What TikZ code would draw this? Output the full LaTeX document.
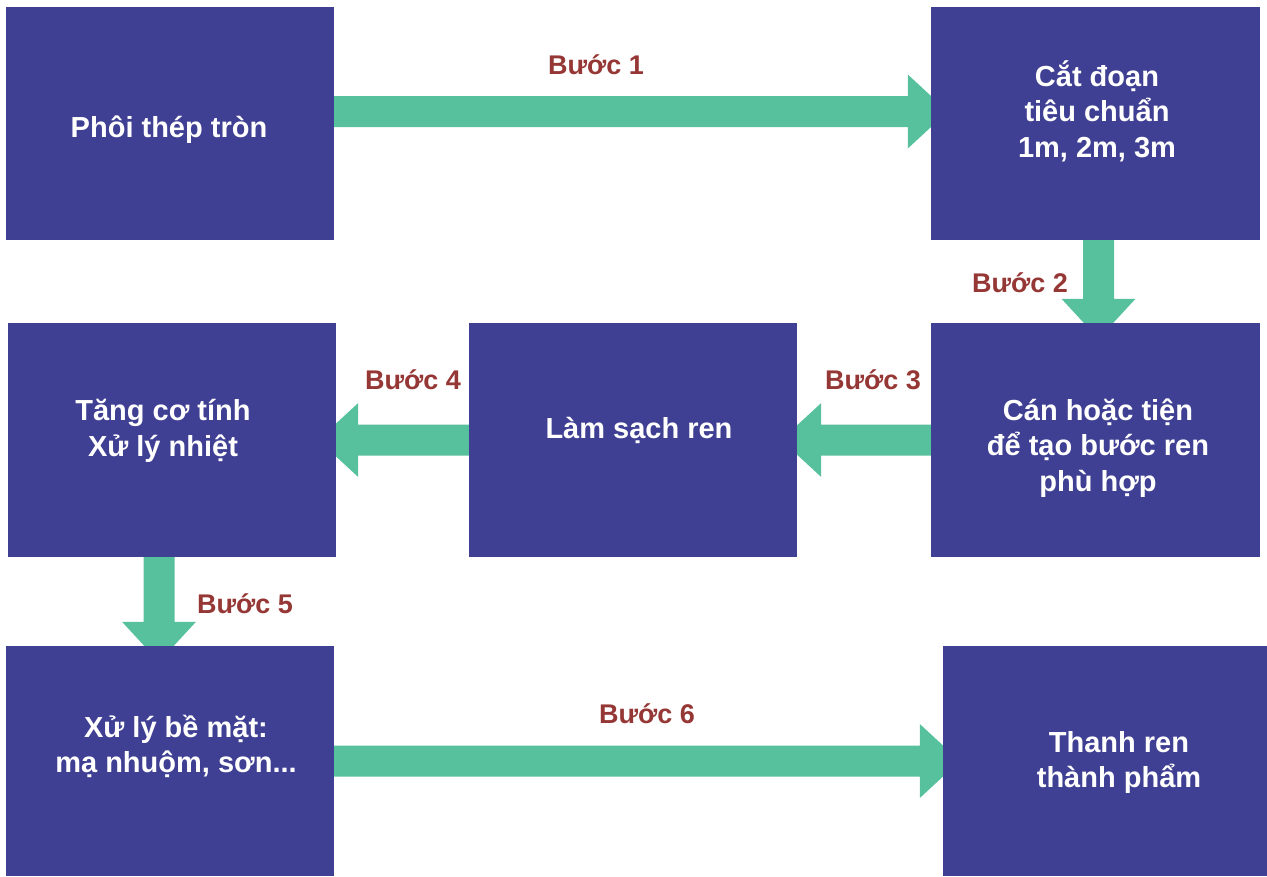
\documentclass[tikz,border=0pt]{standalone}
\usepackage{fontspec}
\setmainfont{Liberation Sans}
\usetikzlibrary{calc}
\pgfdeclarelayer{bg}
\pgfsetlayers{bg,main}
\definecolor{boxblue}{RGB}{63,63,147}
\definecolor{flowgreen}{RGB}{87,192,157}
\definecolor{stepred}{RGB}{149,55,53}
\tikzset{
  box/.style={fill=boxblue, draw=none, inner sep=0pt},
  boxtext/.style={text=white, align=center, inner sep=0pt, font=\bfseries\fontsize{29}{35.5}\selectfont},
  steplabel/.style={text=stepred, inner sep=0pt, font=\bfseries\fontsize{27}{32}\selectfont},
  flow/.style={fill=flowgreen, draw=none}
}
\newcommand\blockarrow[2]{%
  \path ($(#2)!40pt!(#1)$) coordinate (hb);
  \fill[flow] ($(#1)!15.5pt!90:(#2)$) -- ($(hb)!15.5pt!90:(#2)$) -- ($(hb)!37pt!90:(#2)$) -- (#2)
     -- ($(hb)!37pt!-90:(#2)$) -- ($(hb)!15.5pt!-90:(#2)$) -- ($(#1)!15.5pt!-90:(#2)$) -- cycle;}
\begin{document}
\begin{tikzpicture}[x=1pt,y=-1pt]
\useasboundingbox (0,0) rectangle (1267,876);
% boxes
\node[box, minimum width=328pt, minimum height=233pt] (b1) at (170,123.5) {};
\node[box, minimum width=329pt, minimum height=233pt] (b2) at (1095.5,123.5) {};
\node[box, minimum width=329pt, minimum height=234pt] (b3) at (1095.5,440) {};
\node[box, minimum width=328pt, minimum height=234pt] (b4) at (633,440) {};
\node[box, minimum width=328pt, minimum height=234pt] (b5) at (172,440) {};
\node[box, minimum width=328pt, minimum height=230pt] (b6) at (170,761) {};
\node[box, minimum width=324pt, minimum height=230pt] (b7) at (1105,761) {};
% texts
\node[boxtext] (t1) at (169,130) {Phôi thép tròn};
\node[boxtext] (t2) at (1097,111) {Cắt đoạn\\tiêu chuẩn\\1m, 2m, 3m};
\node[boxtext] (t3) at (1098,448) {Cán hoặc tiện\\để tạo bước ren\\phù hợp};
\node[boxtext] (t4) at (639,430.5) {Làm sạch ren};
\node[boxtext] (t5) at (163,431) {Tăng cơ tính\\Xử lý nhiệt};
\node[boxtext] (t6) at (176,746.5) {Xử lý bề mặt:\\mạ nhuộm, sơn...};
\node[boxtext] (t7) at (1119,762.5) {Thanh ren\\thành phẩm};
% step labels
\node[steplabel] (l1) at (596,65) {Bước 1};
\node[steplabel] (l2) at (1020,283) {Bước 2};
\node[steplabel] (l3) at (873,380) {Bước 3};
\node[steplabel] (l4) at (413,380) {Bước 4};
\node[steplabel] (l5) at (245,604) {Bước 5};
\node[steplabel] (l6) at (647,714) {Bước 6};
% arrow ends
\coordinate (s1) at ([yshift=12pt]b1.east);
\coordinate (e1) at ([shift={(17pt,12pt)}]b2.west);
\coordinate (s2) at ([xshift=3pt]b2.south);
\coordinate (e2) at ([shift={(3pt,-16pt)}]b3.north);
\coordinate (s3) at (b3.west);
\coordinate (e3) at ([xshift=-16pt]b4.east);
\coordinate (s4) at (b4.west);
\coordinate (e4) at ([xshift=-18pt]b5.east);
\coordinate (s5) at ([xshift=-13pt]b5.south);
\coordinate (e5) at ([shift={(-11pt,-16pt)}]b6.north);
\coordinate (s6) at (b6.east);
\coordinate (e6) at ([xshift=17pt]b7.west);
\begin{pgfonlayer}{bg}
\blockarrow{s1}{e1}
\blockarrow{s2}{e2}
\blockarrow{s3}{e3}
\blockarrow{s4}{e4}
\blockarrow{s5}{e5}
\blockarrow{s6}{e6}
\end{pgfonlayer}
\end{tikzpicture}
\end{document}
